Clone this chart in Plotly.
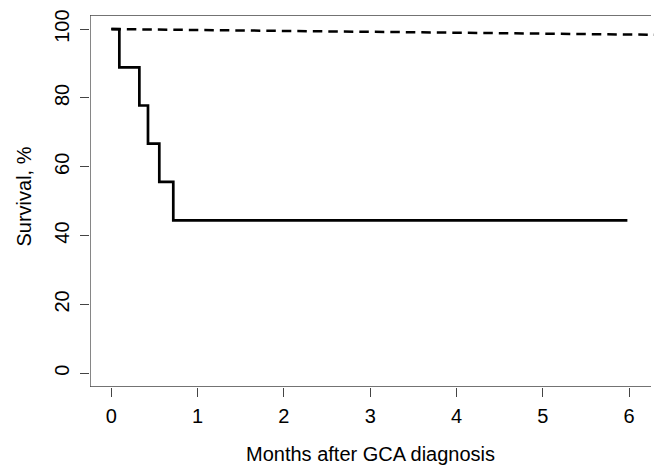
import plotly.graph_objects as go

# Observed survival (GCA patients), Kaplan-Meier steps
km_months = [0, 0.093, 0.325, 0.425, 0.556, 0.718, 5.98]
km_survival = [100, 88.9, 77.8, 66.7, 55.6, 44.4, 44.4]

# Expected survival (general population), dashed
exp_months = [0, 1, 2, 3, 4, 5, 6, 6.3]
exp_survival = [100, 99.75, 99.5, 99.2, 98.95, 98.7, 98.45, 98.35]

x_ticks = [0, 1, 2, 3, 4, 5, 6]
y_ticks = [0, 20, 40, 60, 80, 100]

FONT = "Liberation Sans, Arial, Helvetica, sans-serif"
AX = "#444444"
X0, X1 = -0.247, 6.254
Y0, Y1 = -4.0, 104.1

fig = go.Figure()
fig.add_trace(go.Scatter(x=exp_months, y=exp_survival, mode="lines",
                         line=dict(color="black", width=2.5, dash="9.5px,6px"),
                         showlegend=False))
fig.add_trace(go.Scatter(x=km_months, y=km_survival, mode="lines",
                         line=dict(color="black", width=2.7, shape="hv"),
                         showlegend=False))

# box lines (left, top, bottom)
for (xa, ya, xb, yb) in [(X0, Y0, X0, Y1), (X0, Y1, X1, Y1), (X0, Y0, X1, Y0)]:
    fig.add_shape(type="line", xref="x", yref="y", x0=xa, y0=ya, x1=xb, y1=yb,
                  line=dict(color=AX, width=1.3))

fig.update_layout(
    width=654, height=465,
    margin=dict(l=90, r=0, t=15, b=78),
    paper_bgcolor="white", plot_bgcolor="white",
    font=dict(family=FONT, size=20, color="black"),
    xaxis=dict(range=[X0, X0 + (654 - 90) / 86.3], tickvals=x_ticks,
               ticktext=[str(v) for v in x_ticks],
               ticks="outside", ticklen=9, tickwidth=1.3, tickcolor=AX,
               showgrid=False, zeroline=False, showline=False,
               ticklabelstandoff=2,
               tickfont=dict(size=20, family=FONT)),
    yaxis=dict(range=[Y0, Y1], tickvals=y_ticks,
               ticktext=[str(v) for v in y_ticks], tickangle=-90,
               ticks="outside", ticklen=9, tickwidth=1.3, tickcolor=AX,
               showgrid=False, zeroline=False, showline=False,
               ticklabelstandoff=3,
               tickfont=dict(size=20, family=FONT)),
    annotations=[
        dict(text="Months after GCA diagnosis", xref="paper", yref="paper",
             x=0.497, y=-0.181, xanchor="center", yanchor="middle",
             showarrow=False, font=dict(size=20, family=FONT)),
        dict(text="Survival, %", xref="paper", yref="paper",
             x=-0.117, y=0.512, xanchor="center", yanchor="middle",
             textangle=-90, showarrow=False, font=dict(size=20, family=FONT)),
    ],
)

fig.write_html("out.html", config={"displayModeBar": False},
               post_script="document.body.style.margin='0';document.body.style.padding='0';")
